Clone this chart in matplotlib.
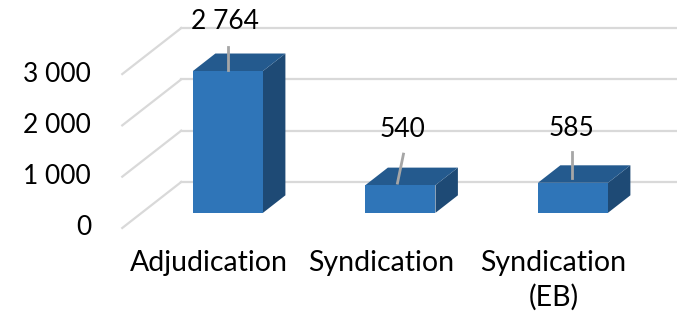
import matplotlib
matplotlib.use("Agg")
from matplotlib import pyplot as plt
from matplotlib.patches import Polygon

plt.rcParams['font.family'] = ['Lato', 'DejaVu Sans']

categories = ["Adjudication", "Syndication", "Syndication\n(EB)"]
values = [2764, 540, 585]
value_labels = ["2 764", "540", "585"]
y_ticks = [0, 1000, 2000, 3000]
y_tick_labels = ["0", "1 000", "2 000", "3 000"]

# fake 3d: a unit of depth shifts right and up
DX = 0.342
DY = 897
D0, D1 = 0.33, 0.71
HALF = 0.203
PX_X = 1 / 172.5   # data x per pixel
PX_Y = 19.49       # data y per pixel

front_c = "#2f75b8"
top_c = "#245a8e"
side_c = "#1e4a75"
grid_c = "#d9d9d9"


def proj(x, v, d):
    return (x + d * DX, v + d * DY)


fig = plt.figure(figsize=(6.77, 3.19), dpi=100)
ax = fig.add_axes([0, 0, 1, 1])
ax.set_xlim(-1.2087, 2.716)
ax.set_ylim(-1774, 4444)
ax.axis("off")

# walls
for v, lab in zip(y_ticks, y_tick_labels):
    a = proj(-0.5, v, 0)
    b = proj(-0.5, v, 1)
    ax.plot([a[0], b[0]], [a[1], b[1]], color=grid_c, lw=1.6, zorder=1)
    ax.plot([b[0], 3.0], [b[1], b[1]], color=grid_c, lw=1.6, zorder=1)
    ax.text(a[0] - 31 * PX_X, a[1], lab, ha="right", va="center",
            fontsize=19, color="black")

# bars
for i, v in enumerate(values):
    l, r = i - HALF, i + HALF
    front = [proj(l, 0, D0), proj(r, 0, D0), proj(r, v, D0), proj(l, v, D0)]
    top = [proj(l, v, D0), proj(r, v, D0), proj(r, v, D1), proj(l, v, D1)]
    side = [proj(r, 0, D0), proj(r, 0, D1), proj(r, v, D1), proj(r, v, D0)]
    ax.add_patch(Polygon(side, closed=True, fc=side_c, ec="none", zorder=3))
    ax.add_patch(Polygon(top, closed=True, fc=top_c, ec="none", zorder=3))
    ax.add_patch(Polygon(front, closed=True, fc=front_c, ec="none", zorder=3))

# data labels with leader lines (pixel offsets)
leader = [(0, 1, 0, 24), (-3, 2, 3, 31), (-1, 5, -1, 31)]
label_off = [(-3, 50), (2, 56), (-2, 54)]
for i, v in enumerate(values):
    x0, y0 = proj(i, v, D0)
    lx0, ly0, lx1, ly1 = leader[i]
    ax.plot([x0 + lx0 * PX_X, x0 + lx1 * PX_X],
            [y0 + ly0 * PX_Y, y0 + ly1 * PX_Y],
            color="#a6a6a6", lw=2, zorder=4)
    ox, oy = label_off[i]
    ax.text(x0 + ox * PX_X, y0 + oy * PX_Y, value_labels[i],
            ha="center", va="center", fontsize=19, color="black", zorder=5)

# category labels
for i, c in enumerate(categories):
    x0, y0 = proj(i, 0, 0)
    ax.text(x0, y0 - 22 * PX_Y, c, ha="center", va="top",
            fontsize=20.5, color="black", linespacing=1.38)

fig.savefig("out.png", dpi=100)
